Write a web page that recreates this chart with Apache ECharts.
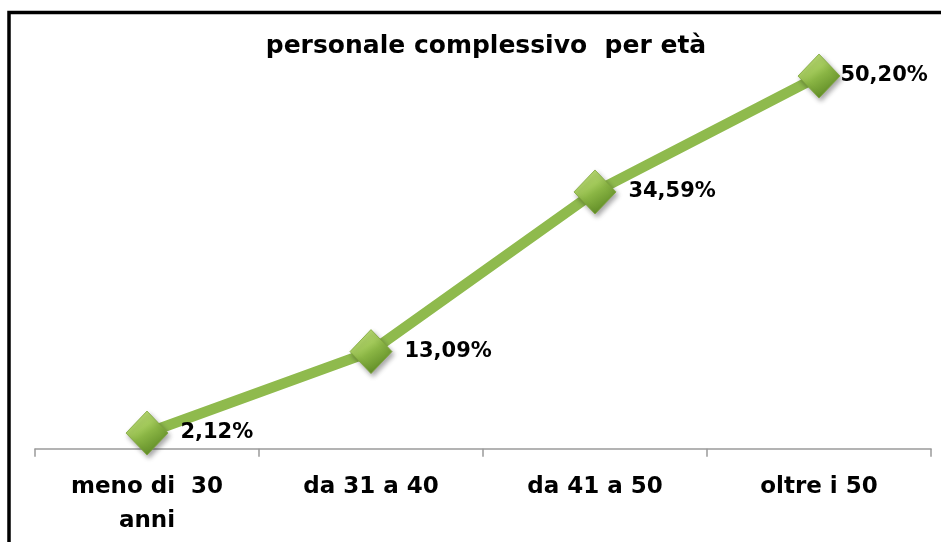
<!DOCTYPE html>
<html>
<head>
<meta charset="utf-8">
<style>
  html, body { margin: 0; padding: 0; background: #ffffff; }
  #chart { width: 941px; height: 542px; }
</style>
<script src="https://cdn.jsdelivr.net/npm/echarts@6/dist/echarts.min.js"></script>
</head>
<body>
<div id="chart"></div>
<script>
// Age groups and share of total staff (%)
const categories = ['meno di  30\nanni', 'da 31 a 40', 'da 41 a 50', 'oltre i 50'];
const shares = [2.12, 13.09, 34.59, 50.20];
const titleText = 'personale complessivo  per età';

const fmt = v => v.toFixed(2).replace('.', ',') + '%';

const chart = echarts.init(document.getElementById('chart'), null, { renderer: 'canvas' });

const markerFill = new echarts.graphic.LinearGradient(0, 0, 0.6, 1, [
  { offset: 0, color: '#c6e283' },
  { offset: 0.45, color: '#a2c95a' },
  { offset: 0.6, color: '#8ab544' },
  { offset: 1, color: '#5e8a25' }
]);

chart.setOption({
  backgroundColor: '#ffffff',
  animation: false,
  title: {
    text: titleText,
    left: 481,
    textAlign: 'center',
    top: 29,
    textStyle: {
      fontFamily: 'DejaVu Sans',
      fontWeight: 'bold',
      fontSize: 25,
      color: '#000000'
    }
  },
  graphic: [{
    type: 'rect',
    silent: true,
    shape: { x: 9, y: 12.5, width: 1000, height: 1000 },
    style: { fill: 'none', stroke: '#000000', lineWidth: 3.5 }
  }],
  grid: { left: 35, right: 10, top: 40.4, bottom: 91 },
  xAxis: {
    type: 'category',
    data: categories,
    boundaryGap: true,
    axisLine: { show: true, lineStyle: { color: '#9a9a9a', width: 1.5 } },
    axisTick: { show: true, alignWithLabel: false, length: 8, lineStyle: { color: '#9a9a9a', width: 1.5 } },
    axisLabel: {
      margin: 19,
      color: '#000000',
      fontFamily: 'DejaVu Sans',
      fontWeight: 'bold',
      fontSize: 23,
      lineHeight: 34,
      interval: 0
    }
  },
  yAxis: {
    type: 'value',
    min: -0.3,
    max: 55,
    show: false,
    splitLine: { show: false }
  },
  series: [{
    type: 'line',
    data: shares.map((v, i) => i === shares.length - 1 ? { value: v, label: { distance: 0 } } : v),
    lineStyle: { color: '#8fba4d', width: 10.5 },
    symbol: 'diamond',
    symbolSize: [42, 44],
    itemStyle: {
      color: markerFill,
      borderColor: '#7ea63a',
      borderWidth: 0.8,
      shadowColor: 'rgba(0,0,0,0.35)',
      shadowBlur: 5,
      shadowOffsetX: 2,
      shadowOffsetY: 3
    },
    label: {
      show: true,
      position: 'right',
      distance: 12,
      formatter: p => fmt(p.value),
      color: '#000000',
      fontFamily: 'DejaVu Sans',
      fontWeight: 'bold',
      fontSize: 21
    },
    z: 3
  }]
});
</script>
</body>
</html>
